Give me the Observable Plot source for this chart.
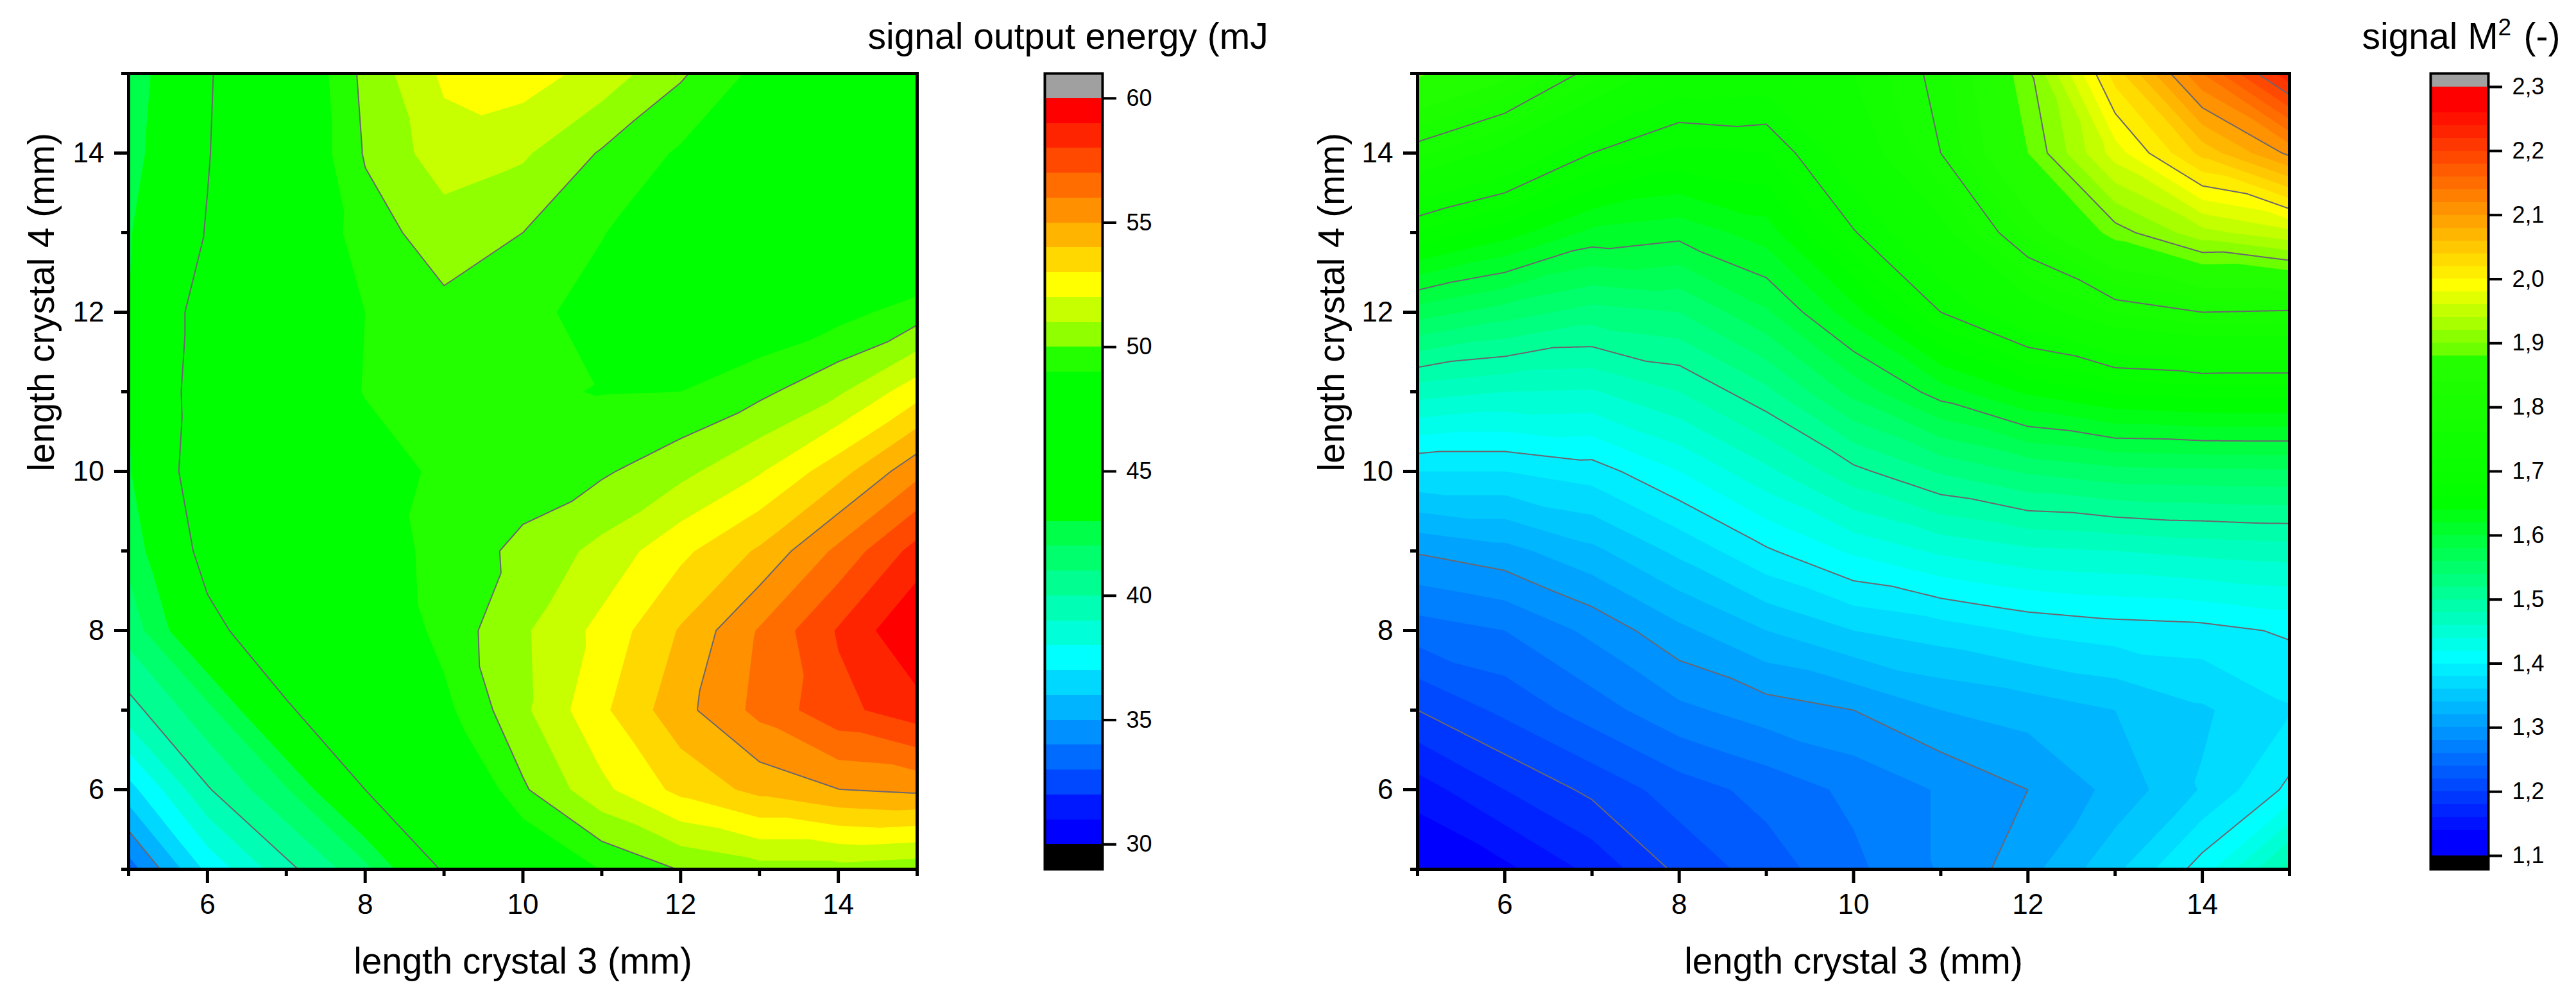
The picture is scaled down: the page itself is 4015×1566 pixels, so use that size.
<!DOCTYPE html>
<html>
<head>
<meta charset="utf-8">
<script src="https://cdn.jsdelivr.net/npm/d3@7"></script>
<script src="https://cdn.jsdelivr.net/npm/@observablehq/plot@0.6"></script>
<style>
html,body{margin:0;padding:0;background:#fff}
#root{position:relative;width:4015px;height:1566px;overflow:hidden;background:#fff}
</style>
</head>
<body>
<div id="root"></div>
<script>
// grid coordinates (mm)
const crystal3 = [5,6,7,8,9,10,11,12,13,14,15];
const crystal4 = [15,14,13,12,11,10,9,8,7,6,5];

// signal output energy (mJ): one row per crystal 4 value, top to bottom
const energy15 = [42.3,44.8,47.5,50.3,52.2,52.5,51.6,50.15,48.7,48.5,48];
const energy14 = [42.5,44.9,47.5,50.1,51.55,51.15,49.9,48.85,47.8,47.5,47.5];
const energy13 = [42.9,45.1,47.6,49.55,50.5,50.0,49.05,48.2,47.5,47,47];
const energy12 = [43,45.8,48,49,49.75,49.3,48.6,48.2,48,48.6,49.5];
const energy11 = [43,46,48,49.05,49.2,49.1,48.97,49.0,49.75,50.85,52.6];
const energy10 = [42.9,46.2,47.6,48.5,49.2,49.5,49.85,50.7,51.9,53.6,55.7];
const energy9 = [42.3,45.6,47,48.3,49.4,50.25,51.3,52.75,54.15,56.25,58.4];
const energy8 = [41.4,44.5,46.3,47.8,49.35,50.85,52.3,54.1,56.1,58.1,60];
const energy7 = [39.6,41.7,44.8,46.5,48.7,50.8,52.8,54.65,56.3,57.7,58.6];
const energy6 = [36.6,39.9,41.9,45,47,49.85,51.75,53.3,54.3,54.98,55.2];
const energy5 = [33.5,37.25,39.7,41.7,45.2,47.5,49.05,50.05,50.6,50.6,50.35];

// signal M2 (-): one row per crystal 4 value, top to bottom
const beam15 = [1.885,1.85,1.79,1.74,1.735,1.76,1.81,1.895,2.03,2.14,2.235];
const beam14 = [1.786,1.75,1.70,1.675,1.68,1.74,1.80,1.88,1.97,2.047,2.105];
const beam13 = [1.678,1.65,1.615,1.607,1.63,1.698,1.75,1.825,1.89,1.933,1.955];
const beam12 = [1.57,1.55,1.532,1.54,1.577,1.632,1.70,1.744,1.783,1.80,1.797];
const beam11 = [1.469,1.46,1.458,1.48,1.515,1.567,1.61,1.644,1.664,1.67,1.67];
const beam10 = [1.38,1.38,1.39,1.42,1.455,1.494,1.523,1.543,1.554,1.556,1.557];
const beam9 = [1.302,1.313,1.335,1.365,1.397,1.424,1.444,1.456,1.46,1.466,1.47];
const beam8 = [1.25,1.26,1.285,1.315,1.34,1.36,1.37,1.383,1.39,1.393,1.403];
const beam7 = [1.2,1.225,1.25,1.275,1.29,1.3,1.32,1.328,1.34,1.357,1.378];
const beam6 = [1.15,1.18,1.205,1.23,1.247,1.265,1.282,1.3,1.326,1.362,1.405];
const beam5 = [1.115,1.135,1.165,1.205,1.23,1.255,1.282,1.313,1.355,1.41,1.49];

// colour levels
const energyLevels = d3.range(30,61);
const energyColors = ["#000000",
  "#0000ff","#0018ff","#0048ff","#006cff","#0090ff","#00b4ff","#00d8ff","#00ffff",
  "#00ffd8","#00ffb4","#00ff90","#00ff6c","#00ff48",
  "#00ff00","#00ff00","#00ff00","#00ff00","#00ff00","#00ff00",
  "#24ff00","#90ff00","#c8ff00","#ffff00","#ffd800","#ffb400","#ff9000","#ff6c00","#ff4800","#ff2400","#ff0000",
  "#a0a0a0"];
const energyLines = [35,40,45,50,55,60];
const energyTicks = [30,35,40,45,50,55,60];

const beamLevels = d3.range(0,61).map(i => +(1.1+i*0.02).toFixed(2));
const beamStops = [1.13,1.41,1.65,1.87,1.89,1.99,2.27];
const beamStopColors = ["#0000ff","#00ffff","#00ff00","#24ff00","#6cff00","#ffff00","#ff0000"];
const beamRamp = d3.scaleLinear().domain(beamStops).range(beamStopColors).clamp(true);
const beamColors = ["#000000", ...beamLevels.slice(0,-1).map(v => d3.rgb(beamRamp(v+0.01)).formatHex()), "#a0a0a0"];
const beamLines = [1.2,1.3,1.4,1.5,1.6,1.7,1.8,1.9,2.0,2.1,2.2];
const beamTicks = [1.1,1.2,1.3,1.4,1.5,1.6,1.7,1.8,1.9,2.0,2.1,2.2,2.3];

const xMajor = [6,8,10,12,14], xMinor = [5,7,9,11,13,15];
const xLabel = "length crystal 3 (mm)", yLabel = "length crystal 4 (mm)";
const FONT = "Liberation Sans";

const energyRows = [energy15,energy14,energy13,energy12,energy11,energy10,energy9,energy8,energy7,energy6,energy5];
const beamRows = [beam15,beam14,beam13,beam12,beam11,beam10,beam9,beam8,beam7,beam6,beam5];
const toPoints = rows => rows.flatMap((r,j) => r.map((v,i) => ({x:crystal3[i], y:crystal4[j], v})));

// Triangulated grid interpolation: each grid cell is split along the diagonal
// with the smaller value difference, so contours run straight along ridges.
function gridInterpolate(index, w, h, X, Y, V) {
  const I = Array.from(index);
  const xs = d3.sort(new Set(I.map(i => X[i])));
  const ys = d3.sort(new Set(I.map(i => Y[i])));
  const nx = xs.length, ny = ys.length;
  const G = new Float64Array(nx*ny);
  const xi = new Map(xs.map((x,k) => [x,k])), yi = new Map(ys.map((y,k) => [y,k]));
  for (const i of I) G[yi.get(Y[i])*nx + xi.get(X[i])] = V[i];
  const W = new Float64Array(w*h);
  for (let py = 0; py < h; ++py) {
    const cy = py + 0.5;
    const j = Math.max(0, Math.min(ny-2, d3.bisectRight(ys, cy)-1));
    const t = (cy - ys[j])/(ys[j+1]-ys[j]);
    for (let px = 0; px < w; ++px) {
      const cx = px + 0.5;
      const i = Math.max(0, Math.min(nx-2, d3.bisectRight(xs, cx)-1));
      const u = (cx - xs[i])/(xs[i+1]-xs[i]);
      const a = G[j*nx+i], b = G[j*nx+i+1], c = G[(j+1)*nx+i], d = G[(j+1)*nx+i+1];
      let z;
      if (Math.abs(a-d) <= Math.abs(b-c)) {
        z = u >= t ? a + u*(b-a) + t*(d-b) : a + t*(c-a) + u*(d-c);
      } else {
        z = u + t <= 1 ? a + u*(b-a) + t*(c-a) : d + (1-u)*(c-d) + (1-t)*(b-d);
      }
      W[py*w+px] = z;
    }
  }
  return W;
}

const root = document.getElementById("root");

function panel({rows, levels, colors, lines, left, width, marginLeft, marginRight, ylabelDx}) {
  const pts = toPoints(rows);
  root.append(Plot.plot({
    width, height:1566, marginLeft, marginRight, marginTop:114, marginBottom:212,
    style:{position:"absolute",left:left+"px",top:"0px",fontFamily:FONT,background:"transparent",overflow:"visible"},
    x:{domain:[5,15]}, y:{domain:[5,15]},
    color:{type:"threshold",domain:levels,range:colors},
    marks:[
      Plot.contour(pts,{x:"x",y:"y",fill:"v",interpolate:gridInterpolate,thresholds:levels,pixelSize:1,stroke:"none"}),
      Plot.contour(pts,{x:"x",y:"y",value:"v",interpolate:gridInterpolate,thresholds:lines,pixelSize:1,fill:"none",stroke:"#6b6670",strokeWidth:2}),
      Plot.frame({stroke:"#000",strokeWidth:5}),
      Plot.axisX({ticks:xMajor,tickSize:22,tickPadding:16,fontSize:44,strokeWidth:5,label:null,fontFamily:FONT,fill:"#000"}),
      Plot.axisX({ticks:xMinor,tickSize:11,strokeWidth:5,label:null,text:null}),
      Plot.axisY({ticks:xMajor,tickSize:22,tickPadding:16,fontSize:44,strokeWidth:5,label:null,fontFamily:FONT,fill:"#000"}),
      Plot.axisY({ticks:xMinor,tickSize:11,strokeWidth:5,label:null,text:null}),
      Plot.text([xLabel],{text:d=>d,frameAnchor:"bottom",dy:162,lineAnchor:"bottom",fontSize:56.5,fill:"#000"}),
      Plot.text([yLabel],{text:d=>d,frameAnchor:"left",dx:ylabelDx,rotate:-90,lineAnchor:"bottom",fontSize:56.5,fill:"#000"})
    ]
  }));
}

function colorbar({levels, colors, ticks, tickFormat, yDomain, left, width, marginLeft, marginRight, titleParts}) {
  const edges = [yDomain[0], ...levels, yDomain[1]];
  const bands = edges.slice(0,-1).map((lo,i) => ({lo, hi:edges[i+1]}));
  root.append(Plot.plot({
    width, height:1566, marginLeft, marginRight, marginTop:114, marginBottom:212,
    style:{position:"absolute",left:left+"px",top:"0px",fontFamily:FONT,background:"transparent",overflow:"visible"},
    x:{domain:[0,1],axis:null}, y:{domain:yDomain},
    color:{type:"threshold",domain:levels,range:colors},
    marks:[
      Plot.rect(bands,{x1:0,x2:1,y1:"lo",y2:"hi",fill:"lo",shapeRendering:"crispEdges"}),
      Plot.frame({stroke:"#000",strokeWidth:4}),
      Plot.axisY({anchor:"right",ticks,tickFormat,tickSize:21,tickPadding:16,fontSize:36,strokeWidth:4,label:null,fontFamily:FONT,fill:"#000"}),
      ...titleParts.map(p => Plot.text([p.text],{text:d=>d,frameAnchor:"top-left",dx:p.dx,dy:p.dy,textAnchor:"start",lineAnchor:"bottom",fontSize:p.size,fill:"#000"}))
    ]
  }));
}

panel({rows:energyRows,levels:energyLevels,colors:energyColors,lines:energyLines,
  left:0,width:1500,marginLeft:200,marginRight:71,ylabelDx:-117});
panel({rows:beamRows,levels:beamLevels,colors:beamColors,lines:beamLines,
  left:2000,width:1600,marginLeft:209,marginRight:32,ylabelDx:-115});

colorbar({levels:energyLevels,colors:energyColors,ticks:energyTicks,tickFormat:d=>String(d),yDomain:[29,61],
  left:1300,width:800,marginLeft:328,marginRight:382,
  titleParts:[{text:"signal output energy (mJ",dx:-276,dy:-39,size:57}]});
colorbar({levels:beamLevels,colors:beamColors,ticks:beamTicks,tickFormat:d=>d.toFixed(1).replace(".",","),yDomain:[1.079,2.321],
  left:3650,width:365,marginLeft:138,marginRight:137,
  titleParts:[
    {text:"signal M",dx:-107,dy:-39,size:57},
    {text:"2",dx:105,dy:-60,size:37},
    {text:"(-)",dx:145,dy:-39,size:57}
  ]});
</script>
</body>
</html>
